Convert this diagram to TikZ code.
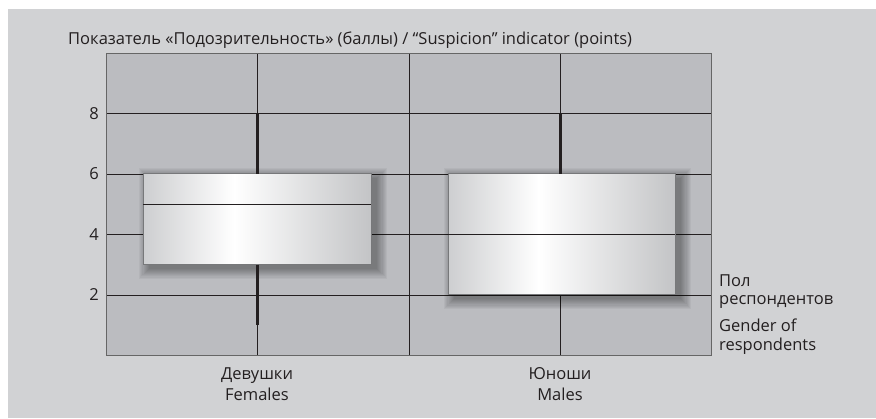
\documentclass[tikz,border=0pt]{standalone}
\usepackage{fontspec}
\setmainfont{Open Sans}
\usetikzlibrary{positioning}

\definecolor{pagegray}{HTML}{D1D2D4}
\definecolor{plotgray}{HTML}{BBBCC0}
\definecolor{boxleft}{HTML}{CDCED0}
\definecolor{boxright}{HTML}{C3C4C6}
\definecolor{boxedge}{HTML}{77787A}
\definecolor{inkblack}{HTML}{231F20}
\pgfdeclarehorizontalshading{boxfade}{100bp}{color(0bp)=(boxleft); color(25bp)=(boxleft); color(45bp)=(white); color(75bp)=(boxright); color(100bp)=(boxright)}

\begin{document}
\begin{tikzpicture}[
  x=1pt, y=1pt,
  axistext/.style={font=\fontsize{16.5}{18}\selectfont, text=inkblack, inner sep=0pt},
  ticktext/.style={font=\fontsize{16.5}{17}\selectfont, text=inkblack, inner sep=0pt, anchor=east},
  gridline/.style={draw=inkblack, line width=0.8pt},
  whisker/.style={draw=inkblack, line width=3pt},
  boxshadow/.style={fill=black, opacity=0.04},
  boxplot/.style={shading=boxfade, draw=boxedge, line width=1pt}]

  \useasboundingbox (0,0) rectangle (876,418);
  \fill[pagegray] (8,0) rectangle (876,409);

  \begin{scope}[shift={(0,62.5)}, y=30.25pt]
	\fill[plotgray] (106,0) rectangle (711,10);
	\foreach \v in {2,4,...,8} {
		\draw[gridline] (106,\v) -- (711,\v);
		\node[ticktext] (tick\v) at (99,\v) {\v};
	}
	\foreach \c in {257,409,560}
		\draw[gridline] (\c,0) -- (\c,10);
	\draw[black!60, line width=0.8pt] (106,0) rectangle (711,10);

	\foreach \xa/\ya/\xb/\yb/\med in {143/3/371/6/5, 448/2/675/6/4} {
		\foreach \s in {0,...,9}
			\fill[boxshadow] ([xshift=6-1.1*\s, yshift=-4-1.1*\s]\xa,\ya)
				rectangle ([xshift=6+1.1*\s, yshift=-4+1.1*\s]\xb,\yb);
		\path[boxplot] (\xa,\ya) rectangle (\xb,\yb);
		\draw[gridline] (\xa,\med) -- (\xb,\med);
	}
	\draw[whisker] (257,6) -- (257,8) (257,3) -- (257,1);
	\draw[whisker] (560,6) -- (560,8);
  \end{scope}

  \node[axistext, anchor=base west] (title) at (68,373)
	{Показатель «Подозрительность» (баллы) / “Suspicion” indicator (points)};

  \node[axistext, anchor=base] (femru) at (257,38) {Девушки};
  \node[axistext, anchor=base] (femen) at (257,17) {Females};
  \node[axistext, anchor=base] (malru) at (560,38) {Юноши};
  \node[axistext, anchor=base] (malen) at (560,17) {Males};

  \node[axistext, anchor=base west] (sexru) at (719,131) {Пол};
  \node[axistext, anchor=base west] (respru) at (719,113) {респондентов};
  \node[axistext, anchor=base west] (sexen) at (719,86) {Gender of};
  \node[axistext, anchor=base west] (respen) at (719,67) {respondents};
\end{tikzpicture}
\end{document}
